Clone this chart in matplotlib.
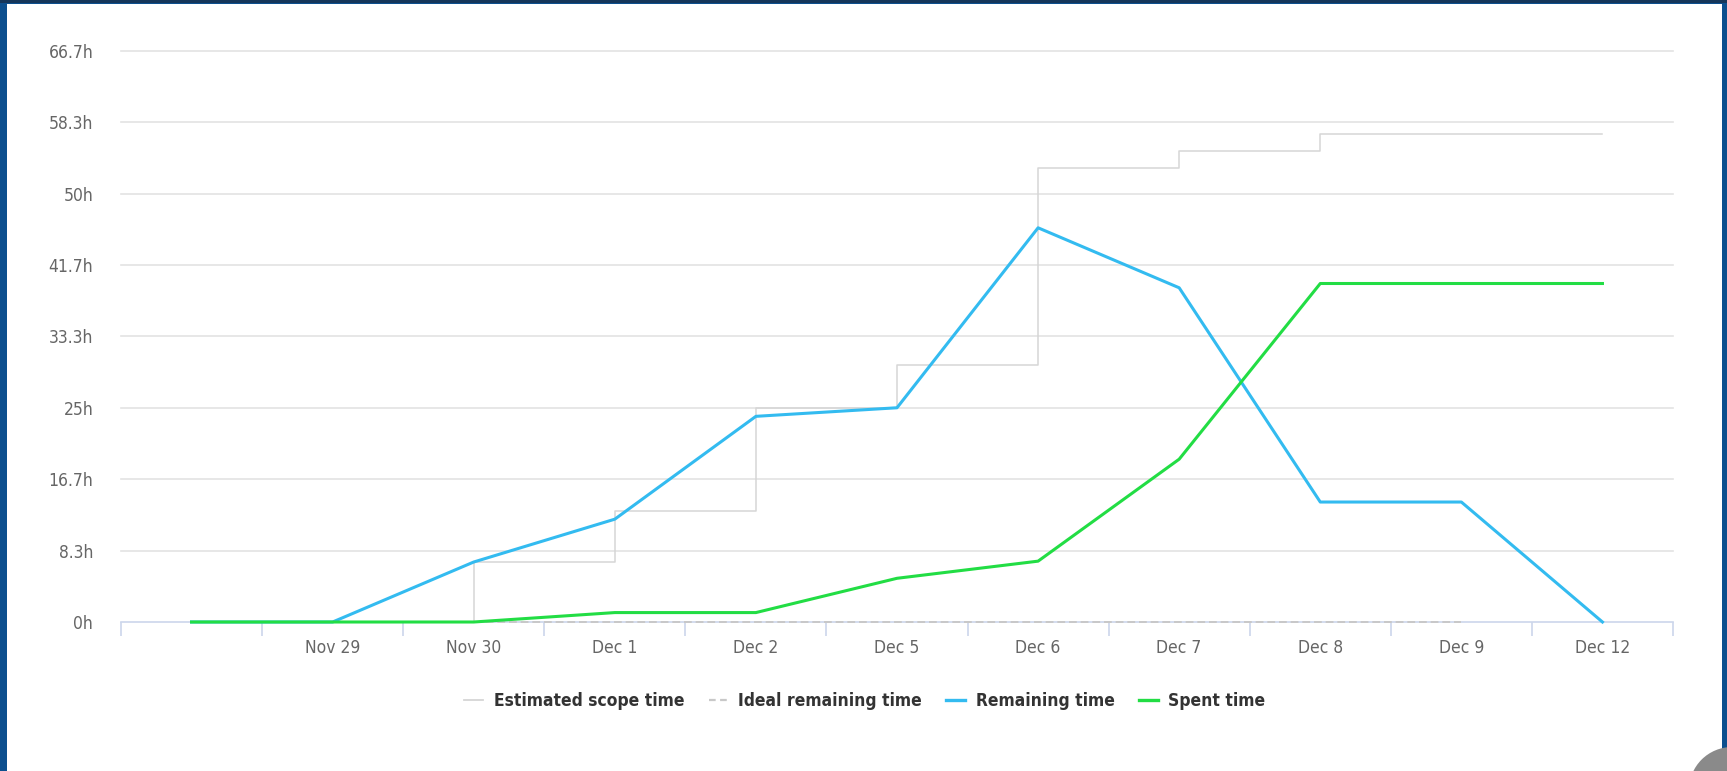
import matplotlib
matplotlib.use("Agg")
import matplotlib.pyplot as plt
from matplotlib.patches import Rectangle, Ellipse
from matplotlib.lines import Line2D

categories = ["", "Nov 29", "Nov 30", "Dec 1", "Dec 2", "Dec 5", "Dec 6", "Dec 7", "Dec 8", "Dec 9", "Dec 12"]
estimated_scope = [0, 0, 7, 13, 25, 30, 53, 55, 57, 57, 57]
ideal_remaining = [None, None, 0, 0, 0, 0, 0, 0, 0, 0, None]
remaining = [0, 0, 7, 12, 24, 25, 46, 39, 14, 14, 0]
spent = [0, 0, 0, 1.1, 1.1, 5.1, 7.1, 19, 39.5, 39.5, 39.5]
ytick_vals = [0, 25/3, 50/3, 25, 100/3, 125/3, 50, 175/3, 200/3]
ytick_labels = ["0h", "8.3h", "16.7h", "25h", "33.3h", "41.7h", "50h", "58.3h", "66.7h"]

FONT = ["DejaVu Sans"]
plt.rcParams["font.family"] = FONT
plt.rcParams["font.stretch"] = "condensed"

W, H = 1727, 771
fig = plt.figure(figsize=(W / 100, H / 100), dpi=100)
fig.patch.set_facecolor("#0c4f8e")
fig.patches.append(Rectangle((7 / W, 0), (1722 - 7) / W, 1 - 4 / H, transform=fig.transFigure,
                             facecolor="white", edgecolor="none", zorder=-2))
fig.patches.append(Rectangle((0, 1 - 3 / H), 1, 3 / H, transform=fig.transFigure,
                             facecolor="#15365a", edgecolor="none", zorder=-2))

x0, x1 = 121, 1673
y0, ytop = 622, 50.7
ax = fig.add_axes([x0 / W, 1 - y0 / H, (x1 - x0) / W, (y0 - ytop) / H])
ax.set_zorder(2)
ax.set_facecolor("none")
ax.set_xlim(-0.5, len(categories) - 0.5)
ax.set_ylim(0, 200 / 3)

for v in ytick_vals[1:]:
    ax.axhline(v, color="#e3e3e3", lw=1.2, zorder=1, clip_on=False)

xs = list(range(len(categories)))
ax.plot(xs, estimated_scope, drawstyle="steps-post", color="#d6d6d6", lw=1.1, zorder=2)
ix = [i for i, v in enumerate(ideal_remaining) if v is not None]
ax.plot(ix, [ideal_remaining[i] for i in ix], color="#c8c8c8", lw=1.4, ls=(0, (4, 2)), zorder=2, clip_on=False)
ax.plot(xs, remaining, color="#33bbf0", lw=2.2, zorder=3, clip_on=False)
ax.plot(xs, spent, color="#22dd44", lw=2.2, zorder=4, clip_on=False)

for s in ["top", "right", "left"]:
    ax.spines[s].set_visible(False)
ax.spines["bottom"].set_color("#ccd6eb")
ax.spines["bottom"].set_linewidth(1.2)
ax.spines["bottom"].set_zorder(1.5)

ax.set_yticks(ytick_vals)
ax.set_yticklabels(ytick_labels)
ax.tick_params(axis="y", length=0, pad=20, labelsize=12.5, labelcolor="#666666")

ax.set_xticks([i + 0.5 for i in range(-1, len(categories))])
ax.set_xticklabels([])
ax.set_xticks(xs, minor=True)
ax.set_xticklabels(categories, minor=True)
ax.tick_params(axis="x", which="major", length=10, width=1.2, color="#ccd6eb")
ax.tick_params(axis="x", which="minor", length=0, pad=12, labelsize=12.5, labelcolor="#666666")

handles = [
    Line2D([], [], color="#d6d6d6", lw=1.3),
    Line2D([], [], color="#c8c8c8", lw=1.6, ls=(0, (3, 2))),
    Line2D([], [], color="#33bbf0", lw=2.4),
    Line2D([], [], color="#22dd44", lw=2.4),
]
labels = ["Estimated scope time", "Ideal remaining time", "Remaining time", "Spent time"]
fig.legend(handles, labels, loc="center", bbox_to_anchor=(865 / W, 1 - 701 / H), ncol=4,
           frameon=False, handlelength=1.1, handletextpad=0.6, columnspacing=1.4,
           prop={"size": 12.5, "weight": "bold", "family": FONT, "stretch": "condensed"},
           labelcolor="#333333")

fig.patches.append(Ellipse((1732 / W, 1 - 790 / H), 86 / W, 86 / H, transform=fig.transFigure,
                           facecolor="#8a8a8a", edgecolor="none", zorder=5))

fig.savefig("out.png", dpi=100, facecolor=fig.get_facecolor())
